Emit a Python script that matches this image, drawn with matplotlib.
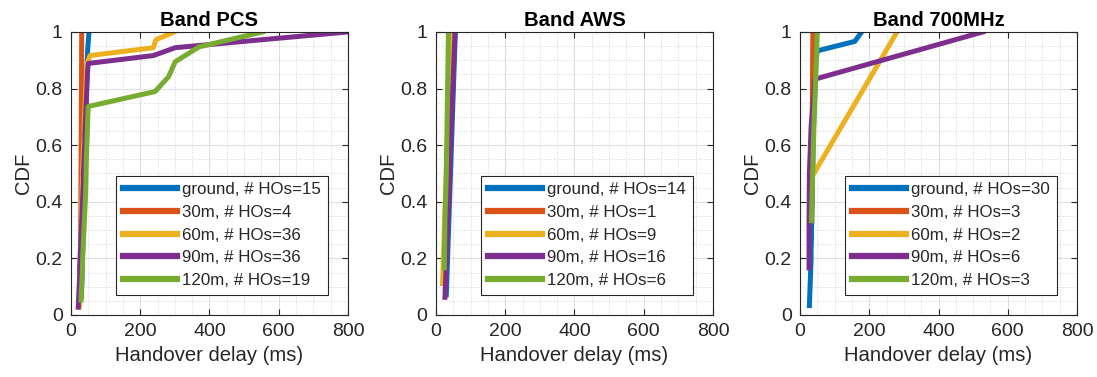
import numpy as np
import matplotlib
matplotlib.use('Agg')
import matplotlib.pyplot as plt
from matplotlib.ticker import MultipleLocator

# handover delay samples (ms), per band and altitude
labels = ['ground', '30m', '60m', '90m', '120m']
colors = ['#0072BD', '#D95319', '#EDB120', '#7E2F8E', '#77AC30']

pcs = [
    [30, 32, 33, 35, 36, 38, 40, 41, 42, 43, 44, 45, 46, 48, 52],
    [28, 29, 30, 31],
    [24, 25, 25, 26, 26, 27, 27, 28, 28, 29, 29, 30, 30, 31, 32, 32,
     33, 34, 34, 35, 36, 37, 38, 38, 39, 40, 41, 42, 43, 44, 45, 47,
     55, 238, 245, 298],
    [21, 22, 23, 24, 25, 25, 26, 27, 28, 29, 30, 31, 32, 33, 34, 35,
     36, 36, 37, 38, 39, 40, 40, 41, 42, 43, 44, 45, 46, 47, 48, 50,
     238, 301, 548, 800],
    [29, 31, 33, 34, 36, 38, 40, 42, 43, 44, 45, 47, 48, 50,
     243, 282, 301, 370, 553],
]
aws = [
    [30, 32, 34, 36, 38, 40, 42, 44, 46, 48, 50, 52, 54, 56],
    [30],
    [19, 22, 25, 28, 31, 34, 37, 40, 43],
    [26, 28, 30, 32, 34, 36, 38, 40, 41, 43, 45, 47, 49, 51, 53, 55],
    [26, 24, 30, 32, 34, 36],
]
mhz700 = [
    [27, 28, 29, 30, 31, 32, 32, 33, 33, 34, 34, 35, 35, 36, 36, 37,
     37, 38, 38, 39, 40, 41, 42, 43, 44, 45, 46, 50, 158, 178],
    [34, 35, 37],
    [40, 280],
    [26, 26, 27, 32, 43, 528],
    [33, 40, 50],
]
bands = [('Band PCS', pcs), ('Band AWS', aws), ('Band 700MHz', mhz700)]

plt.rcParams['font.family'] = ['Liberation Sans', 'DejaVu Sans']
txt = '#262626'

fig = plt.figure(figsize=(10.97, 3.77), dpi=100)
lefts = [0.0647, 0.3974, 0.7293]

for k, (title, data) in enumerate(bands):
    ax = fig.add_axes([lefts[k], 0.1645, 0.2525, 0.7507])
    for lab, col, d in zip(labels, colors, data):
        x = np.sort(np.array(d, dtype=float))
        y = np.arange(1, len(x) + 1) / len(x)
        ax.plot(x, y, color=col, lw=3.6,
                label='{}, # HOs={}'.format(lab, len(x)))
    ax.set_xlim(0, 800)
    ax.set_ylim(0, 1)
    ax.set_xticks([0, 200, 400, 600, 800])
    ax.set_yticks([0, 0.2, 0.4, 0.6, 0.8, 1])
    ax.set_yticklabels(['0', '0.2', '0.4', '0.6', '0.8', '1'])
    ax.xaxis.set_minor_locator(MultipleLocator(50))
    ax.yaxis.set_minor_locator(MultipleLocator(0.05))
    ax.grid(True, which='major', color='#dfdfdf', lw=0.8)
    ax.grid(True, which='minor', color='#c8c8c8', lw=0.6, ls=(0, (1, 2)))
    ax.set_axisbelow(True)
    ax.tick_params(which='both', direction='in', top=True, right=True,
                   colors=txt, labelsize=14)
    ax.tick_params(which='minor', length=0)
    ax.tick_params(which='major', length=4, pad=6)
    for s in ax.spines.values():
        s.set_color(txt)
        s.set_linewidth(0.8)
    ax.set_xlabel('Handover delay (ms)', fontsize=14.6, color=txt)
    ax.set_ylabel('CDF', fontsize=14.6, color=txt, labelpad=2)
    ax.set_title(title, fontsize=14.6, fontweight='bold', pad=4)
    leg = ax.legend(loc='lower right', fontsize=12.2, handlelength=3.2,
                    borderaxespad=1.2, labelspacing=0.45, handletextpad=0.3,
                    fancybox=False, framealpha=1, borderpad=0.4)
    leg.get_frame().set_edgecolor(txt)
    leg.get_frame().set_linewidth(0.8)
    for t in leg.get_texts():
        t.set_color(txt)
    for h in leg.get_lines():
        h.set_linewidth(4.5)

fig.savefig('out.png', dpi=100)
